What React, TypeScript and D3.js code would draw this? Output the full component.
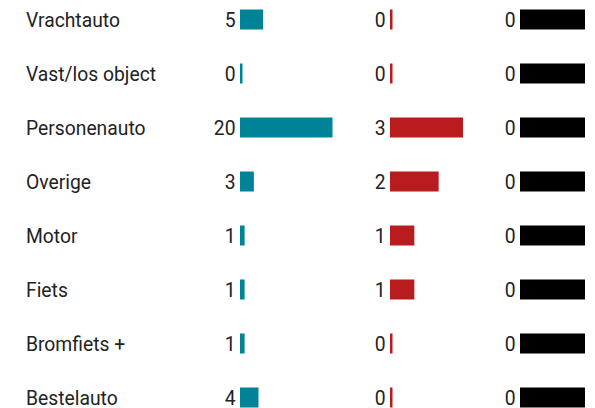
import React from "react";
import * as d3 from "d3";

// categories (top to bottom)
const categories = [
  "Vrachtauto",
  "Vast/los object",
  "Personenauto",
  "Overige",
  "Motor",
  "Fiets",
  "Bromfiets +",
  "Bestelauto",
];

// three series, one column each
const tealValues = [5, 0, 20, 3, 1, 1, 1, 4];
const redValues = [0, 0, 3, 2, 1, 1, 0, 0];
const blackValues = [0, 0, 0, 0, 0, 0, 0, 0];

const width = 595;
const height = 408;
const font = "Roboto, 'Noto Sans', sans-serif";
const fs = 19.3;

const columns = [
  { values: tealValues, x0: 240, w: 92.5, color: "#008396" },
  { values: redValues, x0: 390, w: 73, color: "#b81c1f" },
  { values: blackValues, x0: 520, w: 65, color: "#000000" },
];

const App = () => {
  const y = d3.scalePoint<string>().domain(categories).range([19.5, 397.5]);
  const barH = 20;

  return (
    <svg
      width={width}
      height={height}
      style={{ position: "absolute", left: 0, top: 0, background: "#fff" }}
      fontFamily={font}
    >
      {categories.map((c) => (
        <text key={c} x={26} y={(y(c) ?? 0) + 7} fontSize={fs} fill="#222">
          {c}
        </text>
      ))}
      {columns.map((col, ci) => {
        const max = d3.max(col.values) ?? 0;
        const x = d3.scaleLinear().domain([0, max]).range([0, col.w]);
        return (
          <g key={ci}>
            {col.values.map((v, i) => {
              const cy = y(categories[i]) ?? 0;
              // an all-zero column fills its whole width
              const bw = max === 0 ? col.w : Math.max(2.5, x(v));
              return (
                <g key={i}>
                  <text
                    x={col.x0 - 4.5}
                    y={cy + 7}
                    fontSize={fs}
                    textAnchor="end"
                    fill="#222"
                  >
                    {v}
                  </text>
                  <rect x={col.x0} y={cy - barH / 2} width={bw} height={barH} fill={col.color} />
                </g>
              );
            })}
          </g>
        );
      })}
    </svg>
  );
};

export default App;
